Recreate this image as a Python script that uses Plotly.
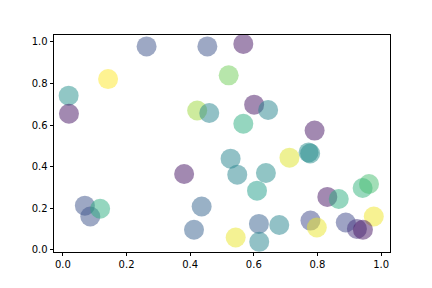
import plotly.graph_objects as go

x_vals = [0.263, 0.454, 0.142, 0.018, 0.019, 0.422, 0.460, 0.567, 0.521, 0.601,
          0.645, 0.567, 0.791, 0.772, 0.777, 0.712, 0.527, 0.548, 0.638, 0.610,
          0.831, 0.867, 0.942, 0.962, 0.977, 0.778, 0.798, 0.889, 0.924, 0.943,
          0.616, 0.680, 0.617, 0.543, 0.381, 0.436, 0.412, 0.069, 0.086, 0.117]
y_vals = [0.978, 0.978, 0.821, 0.741, 0.654, 0.670, 0.658, 0.990, 0.839, 0.698,
          0.672, 0.606, 0.573, 0.468, 0.463, 0.443, 0.438, 0.361, 0.369, 0.284,
          0.254, 0.244, 0.297, 0.316, 0.160, 0.140, 0.107, 0.131, 0.100, 0.096,
          0.124, 0.119, 0.038, 0.059, 0.364, 0.208, 0.096, 0.212, 0.160, 0.197]
c_vals = [0.25, 0.25, 1.00, 0.50, 0.05, 0.85, 0.45, 0.05, 0.78, 0.05,
          0.45, 0.62, 0.05, 0.48, 0.48, 0.95, 0.45, 0.45, 0.48, 0.55,
          0.05, 0.62, 0.65, 0.70, 0.98, 0.22, 0.97, 0.22, 0.15, 0.05,
          0.30, 0.45, 0.45, 0.97, 0.05, 0.32, 0.30, 0.25, 0.25, 0.62]

fig = go.Figure(go.Scatter(
    x=x_vals, y=y_vals, mode="markers",
    marker=dict(size=20, color=c_vals, colorscale="Viridis", cmin=0, cmax=1,
                opacity=0.5, line=dict(width=0)),
))

axis_common = dict(
    showgrid=False, zeroline=False, showline=True, linecolor="black", linewidth=0.8,
    mirror=True, ticks="outside", ticklen=3.5, tickwidth=0.8, tickcolor="black",
    tickformat=".1f", dtick=0.2, tickfont=dict(family="DejaVu Sans", size=10, color="black"),
)
fig.update_xaxes(range=[-0.028, 1.028], tick0=0, **axis_common)
fig.update_yaxes(range=[-0.011, 1.033], tick0=0, **axis_common)
fig.update_layout(
    width=432, height=288, margin=dict(l=54, r=42, t=35, b=36),
    plot_bgcolor="white", paper_bgcolor="white", showlegend=False,
)
fig.write_html("out.html")
